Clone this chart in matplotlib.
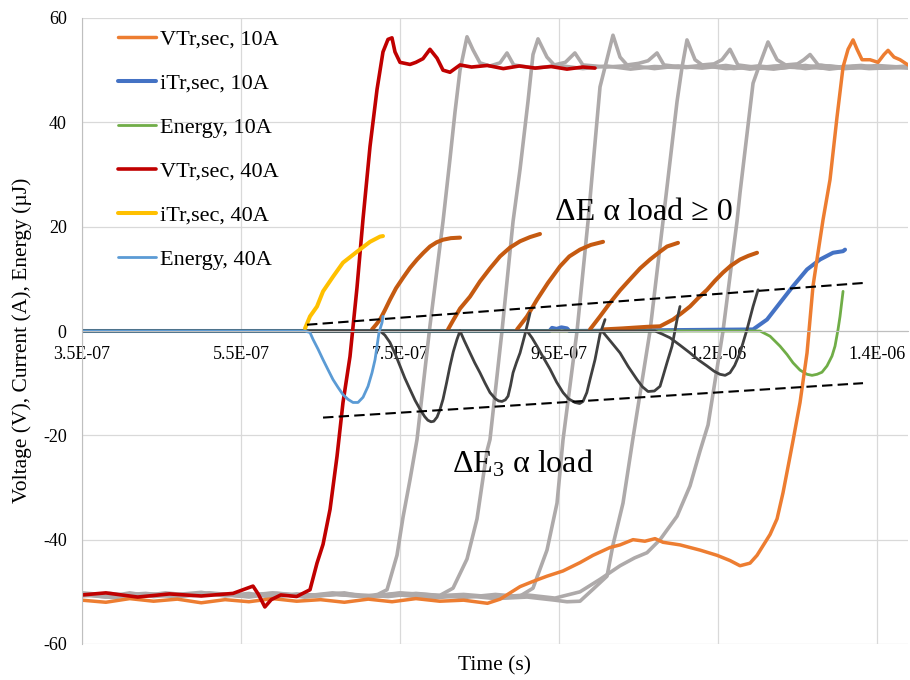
import numpy as np
import matplotlib
matplotlib.use("Agg")
import matplotlib.pyplot as plt

plt.rcParams["font.family"] = ["Liberation Serif", "DejaVu Serif"]
plt.rcParams["mathtext.fontset"] = "custom"
plt.rcParams["mathtext.rm"] = "Liberation Serif"
plt.rcParams["mathtext.it"] = "Liberation Serif:italic"
plt.rcParams["axes.unicode_minus"] = False

NS = 1e-9  # time columns below are in ns

# ---- labelled series: (time ns, value)
v_sec_10A = [(350, -51.6), (380, -52.0), (410, -51.3), (440, -51.8), (470, -51.4), (500, -52.1),
             (530, -51.5), (560, -51.9), (590, -51.3), (620, -51.8), (650, -51.5), (680, -52.0),
             (710, -51.4), (740, -51.9), (770, -51.3), (800, -51.8), (830, -51.6), (860, -52.2),
             (876, -51.4), (901, -49), (917.3, -48), (934.9, -47), (955, -46), (976.4, -44.4),
             (992.8, -43), (1014.2, -41.5), (1026.8, -41), (1043.1, -40), (1058, -40.3),
             (1070.8, -39.8), (1080.8, -40.5), (1102.2, -41), (1127.4, -42), (1148.8, -43),
             (1165.1, -44), (1177.7, -45), (1190.3, -44.5), (1199.1, -43), (1215.5, -39),
             (1224.3, -36), (1231.8, -31), (1239.4, -25), (1244.4, -21), (1253.2, -13.7),
             (1262, -4.2), (1269.5, 8.6), (1275.8, 15), (1282.1, 21.3), (1290.9, 29),
             (1299.7, 41), (1307.3, 50.6), (1313.6, 54), (1319.9, 55.8), (1324.9, 54),
             (1331.2, 52), (1341.2, 52), (1351.3, 51.5), (1358.8, 53), (1363.9, 53.8),
             (1371.4, 52.5), (1379, 52), (1389, 51)]
i_sec_10A = [(350, 0), (938, 0), (941.2, 0.6), (947, 0.4), (953, 0.7), (960.1, 0.5), (963, 0),
             (1194.1, 0.3), (1211.7, 2.2), (1228, 5.4), (1244.4, 8.6), (1262, 11.8),
             (1278.3, 13.7), (1294.7, 15), (1307.3, 15.3), (1309.8, 15.6)]
energy_10A = [(350, 0), (1202.9, 0), (1215.5, -1), (1228, -2.9), (1236.8, -4.5), (1244.4, -6.1),
              (1253.2, -7.5), (1262, -8.3), (1268.3, -8.5), (1274.6, -8.3), (1280.8, -7.9),
              (1287.1, -6.7), (1293.4, -4.8), (1297.2, -2.9), (1301, 0.3), (1303.5, 2.8),
              (1307.3, 7.6)]
v_sec_40A = [(350, -50.6), (380, -50.2), (420, -51.0), (460, -50.4), (500, -50.8), (540, -50.3),
             (565.1, -48.9), (572, -50.5), (580, -52.9), (588, -51.5), (600, -50.6), (620, -50.9),
             (636.8, -49.6), (645.6, -44.5), (653.2, -40.9), (662, -34.2), (670.8, -24),
             (678.3, -13.7), (687.1, -4.9), (695.9, 8.3), (703.5, 21.5), (712.3, 35.4),
             (721.1, 46.3), (728.6, 53.5), (734.9, 55.9), (739.9, 56.2), (743.7, 53.5),
             (750, 51.5), (762.6, 51.1), (770, 51.5), (778.9, 52.2), (787.7, 54), (796.6, 52.3),
             (804.1, 50), (812.9, 49.6), (825.5, 51), (840, 50.6), (860, 50.9), (880, 50.3),
             (900, 50.8), (920, 50.4), (940, 50.7), (960, 50.2), (980, 50.6), (995.3, 50.4)]
i_sec_40A = [(630.5, 0.5), (636.8, 2.8), (645.6, 4.7), (653.2, 7.6), (665.7, 10.4), (678.3, 13.1),
             (695.9, 15.2), (712.3, 17.1), (724.9, 18.1), (728.6, 18.2)]
energy_40A = [(350, 0), (630.5, 0), (636.8, -0.3), (640.6, -1.6), (647, -3.5), (653.2, -5.5),
              (659.4, -7.4), (665.7, -9.3), (672, -10.8), (678.3, -12.2), (684.6, -13.1),
              (690.9, -13.7), (697.2, -13.7), (703.5, -12.7), (709.8, -10.6), (714.8, -8),
              (718.6, -5.5), (721.1, -2.9), (723.6, -0.3), (727.4, 1.6), (728.6, 2.8)]

# ---- intermediate loads (no legend entry)
v_sec_mid = [
    [(350, -50.4), (380, -51.0), (410, -50.2), (440, -50.9), (470, -50.5), (500, -50.1),
     (530, -50.8), (560, -50.3), (590, -51.1), (620, -50.4), (650, -50.7), (680, -50.2),
     (705, -50.9), (722, -50.5), (733.7, -49.6), (746.2, -43), (753.8, -35.7), (762.6, -28.5),
     (771.4, -20.8), (787.7, 1), (804.1, 21), (812.9, 33), (819.2, 42), (825.5, 50),
     (834.3, 56.4), (841.8, 53.9), (850.6, 51.4), (863, 50.8), (875.8, 51.4), (884.6, 53.3),
     (893, 51), (920, 50.4), (950, 50.9), (980, 50.3), (1010, 50.8), (1040, 50.2),
     (1070, 50.7), (1100, 50.5), (1130, 50.9), (1160, 50.3), (1190, 50.6), (1220, 50.2),
     (1250, 50.8), (1280, 50.4), (1310, 50.7), (1340, 50.3), (1389, 50.6)],
    [(350, -50.8), (385, -50.3), (420, -50.9), (455, -50.2), (490, -50.7), (525, -50.4),
     (560, -51.0), (595, -50.3), (630, -50.8), (665, -50.2), (700, -50.6), (735, -50.9),
     (770, -50.3), (800, -50.7), (816.7, -49.3), (834.3, -43.7), (846.9, -36), (859.4, -23),
     (863.2, -20.8), (878.3, 0), (892.2, 21), (901, 31), (911, 44), (917.3, 53), (923.6, 56),
     (934.9, 52.5), (944, 51), (958, 51.5), (970, 53.3), (980, 51), (1010, 50.6),
     (1040, 50.9), (1070, 50.3), (1100, 50.8), (1130, 50.4), (1160, 50.9), (1190, 50.2),
     (1220, 50.7), (1250, 50.5), (1280, 50.9), (1310, 50.3), (1340, 50.7), (1389, 50.4)],
    [(350, -50.3), (390, -50.9), (430, -50.4), (470, -50.8), (510, -50.2), (550, -50.7),
     (590, -50.3), (630, -51.0), (670, -50.5), (710, -50.9), (750, -50.2), (790, -50.6),
     (830, -51.1), (870, -50.5), (900, -50.9), (917.3, -49.3), (934.9, -42), (947.5, -33),
     (955.1, -20.8), (972.7, 0), (986.5, 21), (1001.6, 46.8), (1007.9, 50.6), (1017.9, 56.7),
     (1026.8, 52.5), (1035.6, 51), (1050, 51.3), (1062, 51.8), (1073.3, 53.3), (1082, 51),
     (1110, 50.5), (1140, 50.9), (1170, 50.3), (1200, 50.8), (1230, 50.4), (1260, 50.9),
     (1290, 50.2), (1320, 50.7), (1350, 50.4), (1389, 50.8)],
    [(350, -50.6), (390, -51.1), (430, -50.5), (470, -50.9), (510, -50.3), (550, -50.8),
     (590, -50.4), (630, -50.9), (670, -50.5), (710, -51.0), (750, -50.6), (790, -51.2),
     (830, -50.7), (870, -51.3), (910, -51.0), (945, -51.6), (960, -51.9), (976.4, -51.8),
     (992.8, -49.5), (1010.4, -47), (1017.9, -41), (1030.5, -33), (1043.1, -20.5),
     (1064.5, 0), (1080.8, 21), (1098.5, 44), (1104.8, 50.6), (1111, 55.8), (1121.1, 52),
     (1130, 51), (1145, 51.2), (1155, 52), (1165.1, 54), (1175, 51), (1200, 50.5),
     (1230, 50.9), (1260, 50.3), (1290, 50.8), (1320, 50.4), (1350, 50.9), (1389, 50.5)],
    [(350, -50.2), (390, -50.7), (430, -50.3), (470, -50.9), (510, -50.4), (550, -50.8),
     (590, -50.2), (630, -50.7), (670, -50.4), (710, -50.9), (750, -50.3), (790, -50.8),
     (830, -50.5), (870, -51.0), (910, -50.6), (945, -51.2), (976.4, -50), (1001.6, -47.6),
     (1026.8, -45), (1045, -43.5), (1060.7, -42.5), (1077.1, -40), (1098.5, -35.5),
     (1114.8, -29.7), (1127.4, -23), (1137.5, -18), (1156.3, 0), (1173.9, 21),
     (1177.7, 26.5), (1194.1, 47.5), (1202.9, 51.3), (1212.9, 55.4), (1224.3, 52),
     (1235, 51), (1250, 51.2), (1258, 52), (1265.8, 53), (1276, 51), (1300, 50.6),
     (1330, 50.9), (1360, 50.4), (1389, 50.7)],
]
i_sec_mid = [
    [(714.8, 0.3), (719.8, 1.2), (724.9, 2.2), (731, 4), (737.4, 6), (745, 8.2), (753.8, 10.2),
     (762.6, 12.1), (771.4, 13.7), (779.5, 15), (787.7, 16.2), (796, 17), (804.1, 17.5),
     (814, 17.8), (825.5, 17.9)],
    [(810.4, 0.3), (816.7, 2), (825.5, 4.3), (838.1, 6.6), (850.6, 9.5), (863.2, 12),
     (875.8, 14.3), (888.4, 16), (901, 17.2), (913.5, 18), (926.1, 18.6)],
    [(897.2, 0.3), (909.8, 2.8), (922.3, 6), (936, 9.2), (951.3, 12.4), (963, 14.3),
     (976.4, 15.6), (990, 16.5), (1005.4, 17.1)],
    [(989, 0.3), (1001.6, 2.8), (1014.2, 5.4), (1026.8, 7.8), (1039.3, 9.9), (1052, 12),
     (1064.5, 13.7), (1077, 15.2), (1085.9, 16.2), (1099.7, 16.9)],
    [(1005.4, 0.3), (1030, 0.5), (1060.7, 0.8), (1077.1, 0.9), (1093.4, 2.2), (1104, 3.4),
     (1114.8, 4.7), (1125, 6.3), (1136.2, 7.9), (1146, 9.6), (1156.3, 11.2), (1166, 12.5),
     (1177.7, 13.7), (1188, 14.4), (1199.1, 15)],
]
energy_mid = [
    [(350, 0), (724.9, 0), (731, -0.8), (737.4, -2.2), (743.7, -4.3), (750, -6.7), (756, -9),
     (762.6, -11.2), (769, -13.3), (775.2, -15), (781, -16.4), (785, -17.1), (789, -17.4),
     (792.5, -17.3), (796.6, -16.5), (800, -15.2), (804.1, -13.1), (808.5, -10), (812.9, -6.7),
     (817, -4), (821.7, -1.6), (825.5, 0)],
    [(825.5, 0), (831, -1.9), (838.1, -4.2), (844, -6.1), (850.6, -8), (857, -10),
     (863.2, -11.8), (870, -13), (874, -13.4), (878.3, -13.5), (882.5, -13.2), (885.9, -12.5),
     (889, -10.5), (892.2, -8), (896.6, -6), (901, -4.2), (907.3, -0.6), (913.5, 3.4)],
    [(909.8, 0), (916, -1.3), (922.3, -2.9), (930, -5), (938.7, -7.3), (947, -9.8),
     (955.1, -11.8), (962, -13), (970.1, -13.7), (976, -13.9), (980.2, -13.5), (985, -11.8),
     (989, -9.3), (995.3, -5.5), (1001.6, -0.6), (1007.9, 2.2)],
    [(1004.1, 0), (1015, -2), (1026.8, -4.2), (1037, -6.8), (1048.1, -9.3), (1055, -10.7),
     (1062, -11.6), (1070, -11.5), (1077.1, -10.6), (1080.8, -8.7), (1086, -6),
     (1092.2, -2.9), (1098.5, 2.2), (1102.2, 4.7)],
    [(350, 0), (1070.8, 0), (1080, -0.6), (1089.6, -1.3), (1102, -2.7), (1114.8, -4.2),
     (1125, -5.5), (1136.2, -6.7), (1145, -7.7), (1152.5, -8.3), (1159, -8.5), (1165.1, -8),
     (1171, -6.6), (1177.7, -4.2), (1182, -2), (1186.5, 0.3), (1194.1, 4.7), (1200.4, 7.9)],
]

# dashed guide lines
upper_bound = [(633, 1.2), (1332.4, 9.2)]
lower_bound = [(653.2, -16.6), (1332.4, -10)]

x_ticks = [3.5e-7, 5.5e-7, 7.5e-7, 9.5e-7, 1.15e-6, 1.35e-6]
x_tick_labels = ["3.5E-07", "5.5E-07", "7.5E-07", "9.5E-07", "1.2E-06", "1.4E-06"]
y_ticks = [-60, -40, -20, 0, 20, 40, 60]


def trace(ax, pts, color, lw, label=None, **kw):
    t, v = np.array(pts, dtype=float).T
    line, = ax.plot(t * NS, v, color=color, lw=lw, label=label,
                    solid_joinstyle="round", solid_capstyle="round", **kw)
    return line


fig = plt.figure(figsize=(9.1, 6.8), dpi=100)
ax = fig.add_axes([82 / 910, 36 / 680, 826 / 910, 626 / 680])

for pts in v_sec_mid:
    trace(ax, pts, "#AEAAAA", 2.6)
h_i10 = trace(ax, i_sec_10A, "#4472C4", 2.9, "iTr,sec, 10A")
h_e10 = trace(ax, energy_10A, "#70AD47", 2.0, "Energy, 10A")
h_v10 = trace(ax, v_sec_10A, "#ED7D31", 2.5, "VTr,sec, 10A")
for pts in i_sec_mid:
    trace(ax, pts, "#C55A11", 2.9)
for pts in energy_mid:
    trace(ax, pts, "#404040", 2.0)
h_v40 = trace(ax, v_sec_40A, "#C00000", 2.6, "VTr,sec, 40A")
h_i40 = trace(ax, i_sec_40A, "#FFC000", 2.9, "iTr,sec, 40A")
h_e40 = trace(ax, energy_40A, "#5B9BD5", 2.0, "Energy, 40A")

for pts in (upper_bound, lower_bound):
    trace(ax, pts, "black", 1.5, linestyle=(0, (5, 2.5)))

ax.text(945 * NS, 21.3, "ΔE α load ≥ 0", fontsize=23, va="baseline")
ax.text(815.4 * NS, -27.1, "ΔE$_\\mathrm{3}$ α load", fontsize=23, va="baseline")

ax.set_xlim(3.5e-7, 1.389e-6)
ax.set_ylim(-60, 60)
ax.set_xticks(x_ticks)
ax.set_xticklabels(x_tick_labels)
ax.set_yticks(y_ticks)
ax.tick_params(axis="both", length=0, labelsize=13, colors="#000000")
ax.tick_params(axis="x", pad=11)
ax.tick_params(axis="y", pad=11)
ax.grid(True, color="#D9D9D9", lw=0.9)
ax.set_axisbelow(True)

for side in ("top", "right"):
    ax.spines[side].set_visible(False)
ax.spines["left"].set_color("#BFBFBF")
ax.spines["bottom"].set_position(("data", 0))
ax.spines["bottom"].set_color("#BFBFBF")

ax.set_xlabel("Time (s)", fontsize=15.5)
ax.xaxis.set_label_coords(0.5, -0.02)
ax.set_ylabel("Voltage (V), Current (A), Energy (µJ)", fontsize=15.5)
ax.yaxis.set_label_coords(-0.061, 0.485)

handles = [h_v10, h_i10, h_e10, h_v40, h_i40, h_e40]
ax.legend(handles, [h.get_label() for h in handles], loc="upper left",
          bbox_to_anchor=(118 / 910, 1 - 29 / 680), bbox_transform=fig.transFigure,
          frameon=False, fontsize=16, handlelength=1.7, handletextpad=0.2,
          labelspacing=1.06, borderpad=0, borderaxespad=0)

fig.savefig("out.png", dpi=100)
